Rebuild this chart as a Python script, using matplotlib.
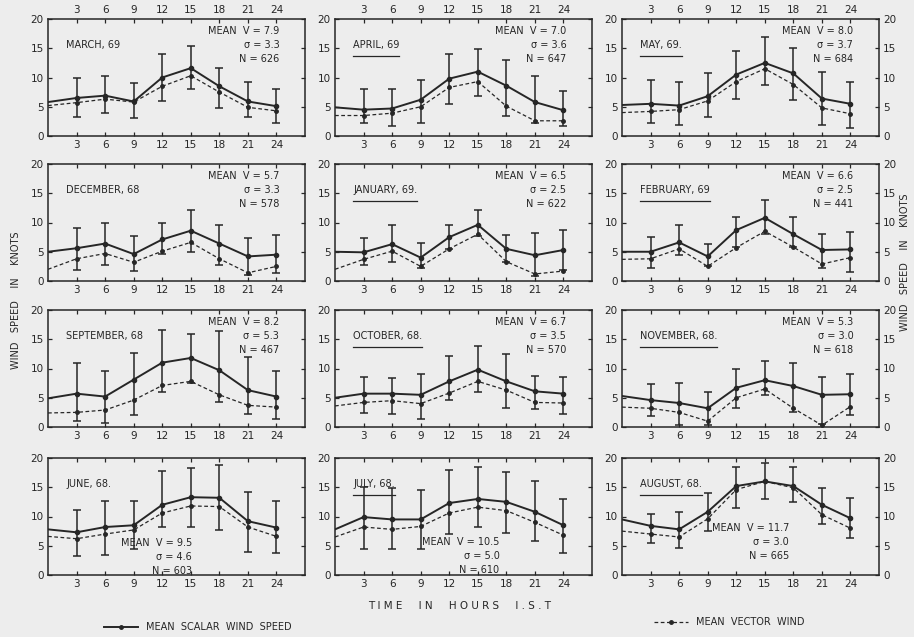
import matplotlib
matplotlib.use('Agg')
import matplotlib.pyplot as plt
from matplotlib.lines import Line2D

# hours of the day (I.S.T); the curves start at 0, the bars from 3 onward
hours = [0, 3, 6, 9, 12, 15, 18, 21, 24]
bar_hours = [3, 6, 9, 12, 15, 18, 21, 24]

# scalar = mean scalar wind speed, vector = mean vector wind (knots)
# upper / lower = ends of the vertical bars at 3..24 h
march_scalar = [5.8, 6.5, 6.9, 5.9, 10.0, 11.6, 8.5, 5.9, 5.1]
march_vector = [5.2, 5.7, 6.3, 5.8, 8.5, 10.3, 7.5, 4.9, 4.3]
march_upper = [10.0, 10.2, 9.0, 14.0, 15.3, 11.7, 9.3, 8.0]
march_lower = [3.3, 4.0, 3.0, 6.0, 8.0, 4.8, 3.3, 2.3]

april_scalar = [4.9, 4.5, 4.7, 6.2, 9.8, 11.0, 8.6, 5.8, 4.4]
april_vector = [3.5, 3.5, 3.9, 5.0, 8.3, 9.3, 5.1, 2.6, 2.6]
april_upper = [8.0, 8.0, 9.6, 14.0, 14.8, 13.0, 10.2, 7.7]
april_lower = [2.2, 1.7, 2.3, 5.5, 6.8, 3.5, 2.2, 1.7]

may_scalar = [5.3, 5.5, 5.2, 6.8, 10.5, 12.5, 10.7, 6.4, 5.5]
may_vector = [4.0, 4.2, 4.5, 6.0, 9.3, 11.5, 8.8, 4.8, 3.8]
may_upper = [9.6, 9.3, 10.7, 14.6, 16.9, 15.1, 11.0, 9.2]
may_lower = [2.3, 1.8, 3.3, 6.3, 8.8, 6.2, 1.8, 1.3]

december_scalar = [5.0, 5.6, 6.4, 4.6, 7.1, 8.6, 6.4, 4.2, 4.5]
december_vector = [2.0, 3.8, 4.7, 3.2, 5.1, 6.6, 3.8, 1.4, 2.5]
december_upper = [9.0, 9.9, 7.7, 10.0, 12.2, 9.6, 7.4, 7.9]
december_lower = [1.9, 2.7, 1.7, 4.6, 5.0, 2.7, 1.0, 1.3]

january_scalar = [5.0, 4.9, 6.3, 4.0, 7.5, 9.6, 5.5, 4.4, 5.3]
january_vector = [2.0, 3.7, 5.1, 2.5, 5.5, 8.0, 3.3, 1.2, 1.7]
january_upper = [7.3, 9.5, 6.5, 9.6, 12.2, 7.8, 8.2, 8.8]
january_lower = [2.7, 3.2, 2.3, 5.5, 7.7, 3.3, 0.9, 1.8]

february_scalar = [5.0, 5.0, 6.6, 4.2, 8.7, 10.8, 8.0, 5.3, 5.4]
february_vector = [3.7, 3.8, 5.5, 2.5, 5.7, 8.5, 5.8, 2.9, 4.0]
february_upper = [7.6, 9.5, 6.3, 11.0, 13.8, 11.0, 8.0, 8.3]
february_lower = [2.3, 4.4, 2.5, 5.8, 8.0, 5.8, 2.3, 1.5]

september_scalar = [4.9, 5.7, 5.2, 8.1, 11.0, 11.8, 9.7, 6.3, 5.2]
september_vector = [2.4, 2.5, 2.9, 4.6, 7.1, 7.8, 5.5, 3.7, 3.4]
september_upper = [11.0, 9.6, 12.6, 16.6, 15.9, 16.4, 12.0, 9.5]
september_lower = [1.0, 0.6, 2.0, 6.0, 7.5, 4.2, 2.2, 1.4]

october_scalar = [5.0, 5.7, 5.7, 5.5, 7.8, 9.8, 7.8, 6.1, 5.7]
october_vector = [3.6, 4.2, 4.5, 4.0, 5.8, 7.8, 6.3, 4.2, 4.1]
october_upper = [8.5, 8.4, 9.1, 12.1, 13.8, 12.5, 8.7, 8.6]
october_lower = [2.4, 2.3, 1.3, 4.6, 5.9, 3.2, 3.0, 2.3]

november_scalar = [5.3, 4.6, 4.1, 3.2, 6.7, 8.0, 7.0, 5.5, 5.6]
november_vector = [3.4, 3.2, 2.5, 1.0, 5.0, 6.5, 3.2, 0.3, 3.5]
november_upper = [7.3, 7.5, 5.9, 10.0, 11.2, 10.9, 8.5, 9.1]
november_lower = [1.8, 0.4, 0.3, 3.2, 5.5, 2.5, 0.5, 2.0]

june_scalar = [7.8, 7.3, 8.2, 8.5, 12.0, 13.3, 13.2, 9.2, 8.1]
june_vector = [6.6, 6.2, 7.0, 7.7, 10.6, 11.8, 11.7, 8.2, 6.6]
june_upper = [11.1, 12.7, 12.7, 17.8, 18.3, 18.8, 14.2, 12.6]
june_lower = [3.2, 3.5, 4.5, 8.2, 8.2, 7.7, 4.0, 3.8]

july_scalar = [7.8, 9.9, 9.5, 9.5, 12.3, 13.0, 12.5, 10.8, 8.5]
july_vector = [6.5, 8.2, 7.8, 8.3, 10.6, 11.6, 11.0, 9.0, 6.8]
july_upper = [15.0, 14.8, 14.6, 18.0, 18.5, 17.6, 16.0, 13.0]
july_lower = [4.5, 4.5, 4.5, 7.0, 8.2, 7.2, 5.8, 3.8]

august_scalar = [9.5, 8.4, 7.8, 10.8, 15.2, 16.0, 15.2, 12.0, 9.7]
august_vector = [7.5, 7.0, 6.5, 9.6, 14.6, 16.0, 14.9, 10.3, 8.0]
august_upper = [10.5, 10.7, 14.1, 18.5, 19.2, 18.5, 14.9, 13.1]
august_lower = [5.5, 4.6, 7.6, 11.5, 13.0, 12.5, 8.7, 6.3]

# panel order, row by row
titles = ['MARCH, 69', 'APRIL, 69', 'MAY, 69.',
          'DECEMBER, 68', 'JANUARY, 69.', 'FEBRUARY, 69',
          'SEPTEMBER, 68', 'OCTOBER, 68.', 'NOVEMBER, 68.',
          'JUNE, 68.', 'JULY, 68.', 'AUGUST, 68.']
underlined = [False, True, True, False, True, True,
              False, True, True, False, True, True]
mean_v = ['7.9', '7.0', '8.0', '5.7', '6.5', '6.6',
          '8.2', '6.7', '5.3', '9.5', '10.5', '11.7']
sigma = ['3.3', '3.6', '3.7', '3.3', '2.5', '2.5',
         '5.3', '3.5', '3.0', '4.6', '5.0', '3.0']
counts = ['626', '647', '684', '578', '622', '441',
          '467', '570', '618', '603', '610', '665']

scalars = [march_scalar, april_scalar, may_scalar, december_scalar,
           january_scalar, february_scalar, september_scalar, october_scalar,
           november_scalar, june_scalar, july_scalar, august_scalar]
vectors = [march_vector, april_vector, may_vector, december_vector,
           january_vector, february_vector, september_vector, october_vector,
           november_vector, june_vector, july_vector, august_vector]
uppers = [march_upper, april_upper, may_upper, december_upper,
          january_upper, february_upper, september_upper, october_upper,
          november_upper, june_upper, july_upper, august_upper]
lowers = [march_lower, april_lower, may_lower, december_lower,
          january_lower, february_lower, september_lower, october_lower,
          november_lower, june_lower, july_lower, august_lower]

ink = '#262626'
paper = '#ededed'
W, H = 914, 637

fig = plt.figure(figsize=(W / 100, H / 100), dpi=100, facecolor=paper)

col_left = [48, 335, 622]
row_top = [19, 164, 310, 458]
panel_w, panel_h = 257, 117

# where the MEAN / sigma / N block sits (axes fraction, right aligned)
stats_xy = [(0.9, 0.9)] * 9 + [(0.56, 0.27), (0.64, 0.28), (0.65, 0.4)]


def draw_panel(ax, i):
	scalar = scalars[i]
	vector = vectors[i]
	lo = [s - l for s, l in zip(scalar[1:], lowers[i])]
	hi = [u - s for s, u in zip(scalar[1:], uppers[i])]

	ax.plot(hours, scalar, '-', color=ink, lw=1.4)
	ax.plot(hours, vector, '--', color=ink, lw=0.9, dashes=(3, 2))
	ax.errorbar(bar_hours, scalar[1:], yerr=[lo, hi], fmt='o', ms=3,
	            color=ink, ecolor=ink, elinewidth=1.1, capsize=3, capthick=1.1)
	ax.plot(bar_hours, vector[1:], 'o', ms=2.5, color=ink)

	ax.set_xlim(0, 27)
	ax.set_ylim(0, 20)
	ax.set_facecolor(paper)
	ax.set_xticks(bar_hours)
	ax.set_yticks([0, 5, 10, 15, 20])
	ax.tick_params(direction='in', length=3, width=0.9, top=True, right=True,
	               labelsize=7.5, colors=ink, pad=3)
	for sp in ax.spines.values():
		sp.set_linewidth(1.1)
		sp.set_color(ink)

	sx, sy = stats_xy[i]
	ax.text(sx, sy, 'MEAN  V = ' + mean_v[i], transform=ax.transAxes,
	        ha='right', va='center', fontsize=7, color=ink)
	ax.text(sx, sy - 0.12, '\u03c3 = ' + sigma[i], transform=ax.transAxes,
	        ha='right', va='center', fontsize=7, color=ink)
	ax.text(sx, sy - 0.24, 'N = ' + counts[i], transform=ax.transAxes,
	        ha='right', va='center', fontsize=7, color=ink)

	t = ax.text(0.07, 0.78, titles[i], transform=ax.transAxes,
	            ha='left', va='center', fontsize=7, color=ink)
	return t


axes = []
labels = []
for i in range(12):
	r, c = divmod(i, 3)
	rect = [col_left[c] / W, 1 - (row_top[r] + panel_h) / H, panel_w / W, panel_h / H]
	ax = fig.add_axes(rect)
	labels.append(draw_panel(ax, i))
	ax.tick_params(labeltop=(r == 0), labelright=(c == 2))
	axes.append(ax)

# underline some of the month names
fig.canvas.draw()
renderer = fig.canvas.get_renderer()
for ax, t, u in zip(axes, labels, underlined):
	if not u:
		continue
	bb = t.get_window_extent(renderer).transformed(ax.transAxes.inverted())
	ax.plot([bb.x0, bb.x1], [bb.y0 - 0.05] * 2, color=ink, lw=0.9,
	        transform=ax.transAxes, clip_on=False)

fig.text(16 / W, 1 - 300 / H, 'WIND   SPEED    IN    KNOTS', rotation=90,
         ha='center', va='center', fontsize=7, color=ink)
fig.text(905 / W, 1 - 262 / H, 'WIND   SPEED    IN    KNOTS', rotation=90,
         ha='center', va='center', fontsize=7, color=ink)
fig.text(460 / W, 1 - 606 / H, 'T I M E     I N     H O U R S     I . S . T',
         ha='center', va='center', fontsize=7.5, color=ink)

scalar_handle = Line2D([], [], color=ink, lw=1.4, marker='o', ms=2.5)
vector_handle = Line2D([], [], color=ink, lw=0.9, ls='--', marker='o', ms=2.5,
                       dashes=(3, 2))
fig.legend([scalar_handle], ['MEAN  SCALAR  WIND  SPEED'], loc='center left',
           bbox_to_anchor=(95 / W, 1 - 627 / H), frameon=False, fontsize=7,
           handlelength=3.5, labelcolor=ink)
fig.legend([vector_handle], ['MEAN  VECTOR  WIND'], loc='center left',
           bbox_to_anchor=(645 / W, 1 - 622 / H), frameon=False, fontsize=7,
           handlelength=3.5, labelcolor=ink)

fig.savefig('out.png', dpi=100, facecolor=paper)
